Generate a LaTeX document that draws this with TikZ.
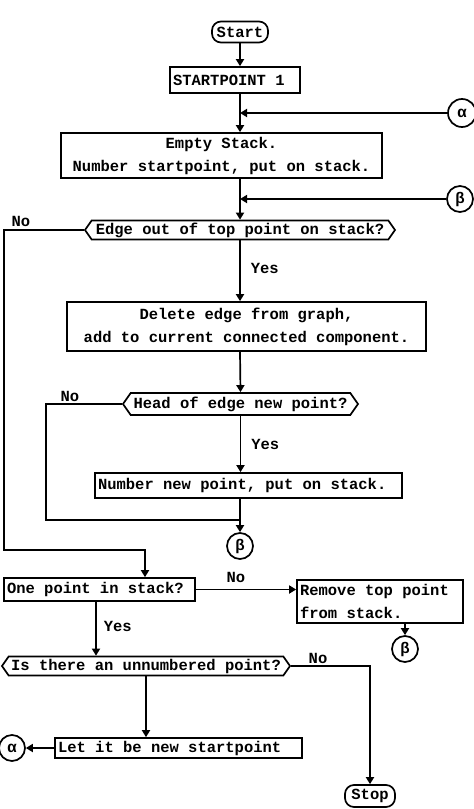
\documentclass[tikz,border=0pt]{standalone}
\usepackage{fontspec}
\setmainfont{Liberation Mono}
\usetikzlibrary{arrows.meta,shapes.symbols,positioning}

\begin{document}
\begin{tikzpicture}[x=1pt, y=-1pt, line width=1.7pt,
    every node/.style={font=\bfseries\fontsize{15.5}{23}\selectfont},
    term/.style={draw, rounded corners=9pt, minimum height=21pt, minimum width=56pt, inner xsep=3pt, inner ysep=0pt},
    procbox/.style={draw, rectangle, inner xsep=3pt, inner ysep=2pt},
    decide/.style={draw, signal, signal to=west and east, signal pointer angle=110,
        inner xsep=1pt, inner ysep=0pt, minimum height=19pt},
    conn/.style={draw, circle, minimum size=26pt, inner sep=0pt},
    flow/.style={-{Triangle[length=7pt,width=8pt]}},
    lbl/.style={inner sep=0pt}]
\useasboundingbox (0,0) rectangle (474,809);

\node[term] (start) at (240,32) {Start};
\node[procbox, text width=124pt, minimum height=26pt, align=flush left] (sp1) at (235,80) {STARTPOINT 1};
\node[procbox, minimum width=321pt, minimum height=45pt, align=center] (empty) at (221.5,155.5)
    {Empty Stack.\\Number startpoint, put on stack.};
\node[decide, minimum width=310pt] (chk1) at (240,230) {Edge out of top point on stack?};
\node[procbox, minimum width=359pt, minimum height=49pt, align=center] (delete) at (246.5,326.5)
    {Delete edge from graph,\\add to current connected component.};
\node[decide, minimum width=235pt, minimum height=22pt] (chk2) at (240.5,404) {Head of edge new point?};
\node[procbox, text width=301pt, minimum height=25pt, align=flush left] (numnew) at (248.5,485.5)
    {Number new point, put on stack.};
\node[procbox, text width=185pt, minimum height=23pt, align=flush left] (onept) at (99.5,589.5) {One point in stack?};
\node[procbox, text width=160pt, minimum height=43pt, align=flush left] (remove) at (380,601.5)
    {Remove top point\\from stack.};
\node[decide, minimum width=288pt] (chk3) at (146,666) {Is there an unnumbered point?};
\node[procbox, text width=241pt, minimum height=20pt, inner ysep=0pt, align=flush left] (newsp) at (178.5,748)
    {Let it be new startpoint};
\node[term, minimum width=50pt, minimum height=22pt] (stop) at (370,796) {Stop};

\node[conn, minimum size=28pt] (a1) at (462,113) {α};
\node[conn] (b0) at (460,199) {β};
\node[conn] (b1) at (240,546) {β};
\node[conn] (b2) at (405,649) {β};
\node[conn] (a2) at (12,748) {α};

\coordinate (rail) at (4,550);
\coordinate (drop) at (145,550);
\coordinate (loop2) at (46,520);

\draw[flow] (start.south) -- (start.south |- sp1.north);
\draw[flow] (start.south |- sp1.south) -- (start.south |- empty.north);
\draw[flow] (a1.west) -- (a1.west -| start.south);
\draw[flow] (start.south |- empty.south) -- (chk1.north);
\draw[flow] (b0.west) -- (b0.west -| start.south);

\draw[flow] (chk1.west) -| (rail) -- (drop) -- (drop |- onept.north);
\node[lbl] (no1) at (21,221) {No};
\draw[flow] (chk1.south) -- (chk1.south |- delete.north)
    node[lbl, pos=0.47, right=10pt] (yes1) {Yes};

\draw[flow] (start.south |- delete.south) -- (chk2.north);
\draw (chk2.west) -| (loop2) -- (loop2 -| b1);
\node[lbl] (no2) at (70,396) {No};
\draw[flow] (chk2.south) -- (chk2.south |- numnew.north)
    node[lbl, pos=0.5, right=10pt] (yes2) {Yes};
\draw[flow] (b1 |- numnew.south) -- (b1.north);

\draw[flow] (onept.east) -- (onept.east -| remove.west)
    node[lbl, pos=0.4, above=6pt] (no3) {No};
\draw[flow] (b2 |- remove.south) -- (b2.north);
\draw[flow] ([xshift=-3.5pt]onept.south) -- ([xshift=-3.5pt]onept.south |- chk3.north)
    node[lbl, pos=0.45, right=7pt] (yes3) {Yes};

\draw[flow] (chk3.east) -| (stop.north);
\node[lbl] (no4) at (318,658) {No};
\draw[flow] (chk3.south) -- (chk3.south |- newsp.north);
\draw[flow] (newsp.west) -- (a2.east);

\end{tikzpicture}
\end{document}
